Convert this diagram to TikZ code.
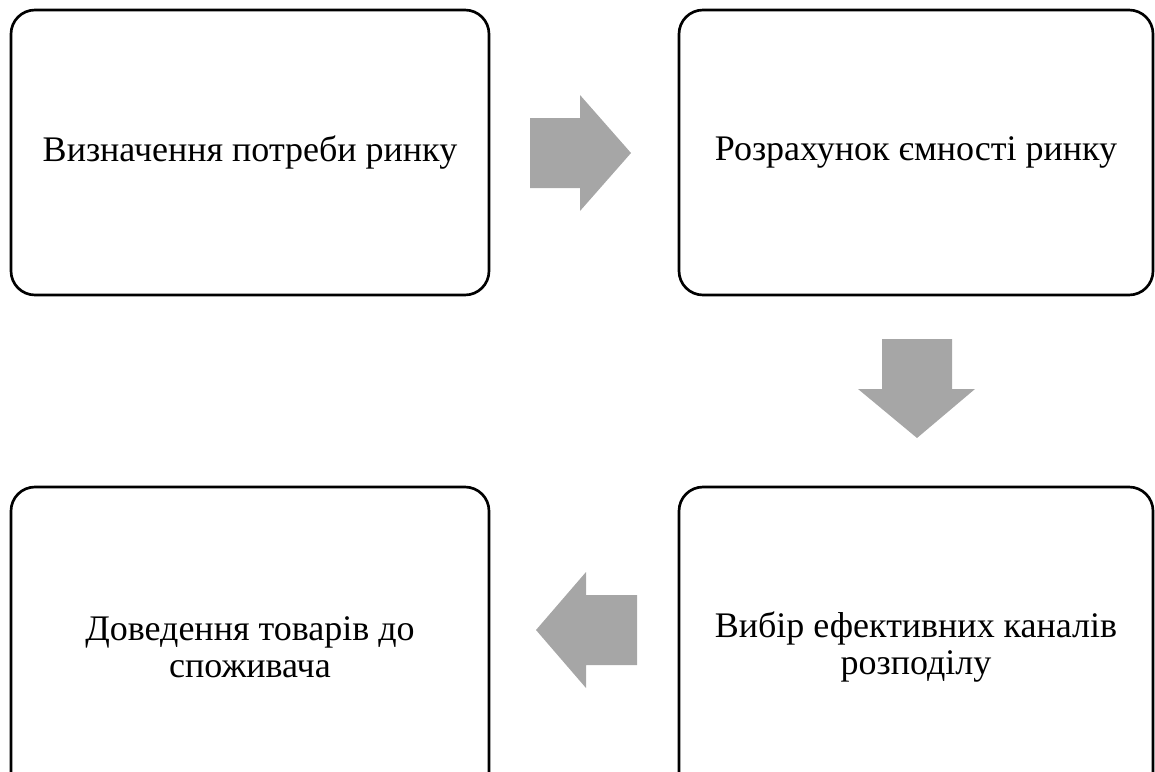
\documentclass[tikz,border=0pt]{standalone}
\usepackage{fontspec}
\setmainfont{Liberation Serif}
\usepackage{tikz}
\usetikzlibrary{positioning}
\definecolor{Gris}{HTML}{A6A6A6}

\begin{document}
\begin{tikzpicture}[
  x=0.75pt,y=-0.75pt,
  font=\fontsize{27}{28}\selectfont,
  caja/.style={draw=black,line width=2pt,rounded corners=18pt,fill=white,align=center,inner sep=0pt},
  flecha/.style={fill=Gris,draw=none}
]
  \useasboundingbox (0,0) rectangle (1155,771);
  % etapas
  \node[caja,minimum width=478*0.75pt,minimum height=285*0.75pt] (necesidad) at (250,152.5)
    {Визначення потреби ринку};
  \node[caja,minimum width=474*0.75pt,minimum height=285*0.75pt] (capacidad) at (916,152.5)
    {Розрахунок ємності ринку};
  \node[caja,minimum width=474*0.75pt,minimum height=320*0.75pt] (canales) at (916,647)
    {Вибір ефективних каналів\\розподілу};
  \node[caja,minimum width=478*0.75pt,minimum height=320*0.75pt] (entrega) at (250,647)
    {Доведення товарів до\\споживача};

  % flechas de bloque
  \fill[flecha] (530,118) -- (580,118) -- (580,95) -- (631,153) -- (580,211)
    -- (580,188) -- (530,188) -- cycle;
  \fill[flecha] (882,339) -- (952,339) -- (952,389) -- (975,389) -- (917,438)
    -- (858,389) -- (882,389) -- cycle;
  \fill[flecha] (637,595) -- (586,595) -- (586,572) -- (536,630) -- (586,688)
    -- (586,665) -- (637,665) -- cycle;
\end{tikzpicture}
\end{document}
